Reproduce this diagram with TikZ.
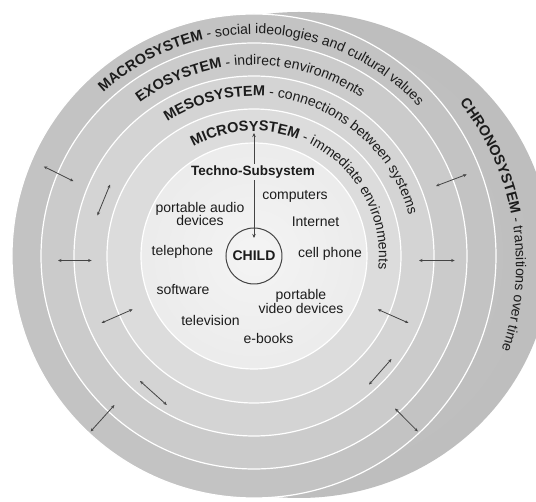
\documentclass[tikz,border=0pt]{standalone}
\usepackage{fontspec}
\setmainfont{Liberation Sans}
\usetikzlibrary{decorations.text,arrows.meta}
\definecolor{macroc}{HTML}{C3C3C3}
\definecolor{exoc}{HTML}{CBCBCB}
\definecolor{mesoc}{HTML}{D4D4D4}
\definecolor{microc}{HTML}{DCDCDC}
\definecolor{innerA}{HTML}{F4F4F4}
\definecolor{innerB}{HTML}{E3E3E3}
\definecolor{chronoA}{HTML}{C8C8C8}
\definecolor{chronoB}{HTML}{B8B8B8}
\definecolor{chronoC}{HTML}{959595}
\definecolor{txt}{HTML}{1C1C1C}
\definecolor{arrowc}{HTML}{444444}
\pgfdeclareradialshading{chronoshade}{\pgfpoint{0bp}{0bp}}{color(0bp)=(chronoA); color(38bp)=(chronoB); color(50bp)=(chronoC); color(100bp)=(chronoC)}
\pgfdeclareradialshading{innershade}{\pgfpoint{0bp}{0bp}}{color(0bp)=(innerA); color(50bp)=(innerB); color(100bp)=(innerB)}
\newcommand\capsf{\fontsize{14.5}{16}\selectfont\bfseries}
\newcommand\descf{\fontsize{14}{16}\selectfont\mdseries}
\begin{document}
\begin{tikzpicture}[x=1pt,y=1pt,
  item/.style={font=\fontsize{14}{13.5}\selectfont, text=txt, align=center, inner sep=0pt},
  ringline/.style={draw=white, line width=1.2pt},
  biarrow/.style={draw=arrowc, line width=0.8pt, arrows={Stealth[length=3.5pt,width=3pt]-Stealth[length=3.5pt,width=3pt]}},
  monoarrow/.style={draw=arrowc, line width=0.8pt, arrows={-Stealth[length=4pt,width=3.5pt]}},
  arctext/.style={decorate, decoration={text along path, text align=center, text color=txt, text={#1}}}
]
\useasboundingbox (-254,-246) rectangle (282,256);
\fill[white] (-254,-246) rectangle (282,256);
% chronosystem (back disk)
\shade[shading=chronoshade] (45,1) ellipse [x radius=252, y radius=243];
% front disk bands
\fill[macroc] (0,0) circle (242);
\fill[exoc] (0,0) circle (213);
\fill[mesoc] (0,0) circle (180);
\fill[microc] (0,0) circle (147);
\shade[shading=innershade] (0,0) circle (113);
\foreach \r in {113,147,180,213,242} \draw[ringline] (0,0) circle (\r);

% ring texts
\path[arctext={|\capsf|MACROSYSTEM|\descf| - social ideologies and cultural values}]
  (147.5:222) arc[start angle=147.5, end angle=27.5, radius=222];
\path[arctext={|\capsf|EXOSYSTEM|\descf| - indirect environments}]
  (156.3:191) arc[start angle=156.3, end angle=26.3, radius=191];
\path[arctext={|\capsf|MESOSYSTEM|\descf| - connections between systems}]
  (148.75:160) arc[start angle=148.75, end angle=-11.25, radius=160];
\path[arctext={|\capsf|MICROSYSTEM|\descf| - immediate environments}]
  (141.4:125) arc[start angle=141.4, end angle=-28.6, radius=125];
\path[shift={(1,-9)}, arctext={|\capsf|CHRONOSYSTEM|\descf| - transitions over time}]
  (84.65:261) arc[start angle=84.65, end angle=-65.35, radius=261];

% centre
\node[circle, draw=arrowc, line width=1pt, minimum size=56pt, inner sep=0pt,
      font=\fontsize{14}{16}\selectfont\bfseries, text=txt] (child) at (0,0) {CHILD};
\node[item, font=\fontsize{13.5}{15}\selectfont\bfseries, inner sep=2pt] (techno) at (-1,84) {Techno-Subsystem};
\node[item] (computers) at (41,60) {computers};
\node[item] (audio) at (-54,42) {portable audio\\devices};
\node[item] (internet) at (61.5,34) {Internet};
\node[item] (telephone) at (-71.5,4) {telephone};
\node[item] (cell) at (76,2) {cell phone};
\node[item] (software) at (-71,-34) {software};
\node[item] (video) at (47,-45.5) {portable\\video devices};
\node[item] (tv) at (-43.5,-65) {television};
\node[item] (ebooks) at (14.5,-83) {e-books};

\coordinate (microtip) at (0,123);
\coordinate (childtip) at (0,18);
\draw[monoarrow] (techno.north -| microtip) -- (microtip);
\draw[monoarrow] (techno.south -| childtip) -- (childtip);

% connection arrows
\coordinate (a1s) at (-210.2,89.5);  \coordinate (a1e) at (-180.5,74.8);
\coordinate (a2s) at (-144,71.4);    \coordinate (a2e) at (-156.6,40.6);
\coordinate (a3s) at (-196,-4.5);    \coordinate (a3e) at (-162.4,-4.5);
\coordinate (a4s) at (-152.5,-67);   \coordinate (a4e) at (-121.4,-53.4);
\coordinate (a5s) at (-114,-125);    \coordinate (a5e) at (-87.2,-149);
\coordinate (a6s) at (-139.5,-149);  \coordinate (a6e) at (-163.4,-175.5);
\coordinate (a7s) at (182,70);       \coordinate (a7e) at (212.7,81.6);
\coordinate (a8s) at (165,-4.5);     \coordinate (a8e) at (200.7,-4.5);
\coordinate (a9s) at (123.8,-53.4);  \coordinate (a9e) at (154.5,-67);
\coordinate (a10s) at (137.5,-103);  \coordinate (a10e) at (115,-128.6);
\coordinate (a11s) at (141,-152.5);  \coordinate (a11e) at (163.8,-175.5);
\foreach \i in {1,...,11} \draw[biarrow] (a\i s) -- (a\i e);
\end{tikzpicture}
\end{document}
